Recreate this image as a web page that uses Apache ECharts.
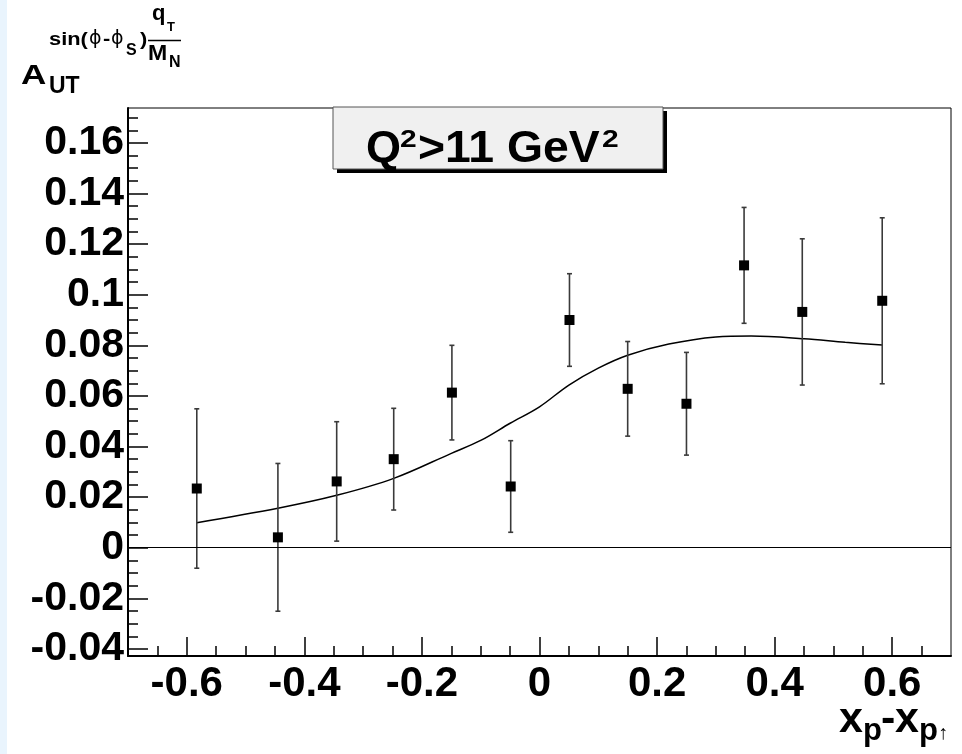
<!DOCTYPE html>
<html>
<head>
<meta charset="utf-8">
<script src="https://cdn.jsdelivr.net/npm/echarts@6/dist/echarts.min.js"></script>
<style>
  html, body { margin: 0; padding: 0; background: #ffffff; }
  #chart { width: 962px; height: 754px; }
</style>
</head>
<body>
<div id="chart"></div>
<script>
// Measured asymmetry points: bin centre in x_p - x_p↑, asymmetry value, statistical error
const xCenters = [-0.583, -0.445, -0.345, -0.248, -0.149, -0.049, 0.051, 0.150, 0.250, 0.348, 0.447, 0.583];
const asymValues = [0.0234, 0.0041, 0.0262, 0.0350, 0.0613, 0.0242, 0.0900, 0.0628, 0.0569, 0.1116, 0.0932, 0.0976];
const asymErrors = [0.0315, 0.0292, 0.0236, 0.0201, 0.0187, 0.0181, 0.0183, 0.0187, 0.0203, 0.0229, 0.0289, 0.0328];

// Model curve
const fitX = [-0.583, -0.445, -0.345, -0.248, -0.15, -0.10, -0.05, 0.0, 0.05, 0.10, 0.15, 0.22, 0.30, 0.36, 0.45, 0.52, 0.583];
const fitY = [0.0099, 0.0156, 0.0207, 0.0274, 0.0373, 0.0424, 0.0492, 0.0557, 0.0643, 0.0710, 0.0761, 0.0805, 0.0833, 0.0837, 0.0826, 0.0812, 0.0801];

// Axis ranges and tick positions
const xRange = [-0.7, 0.7];
const yRange = [-0.0428, 0.1738];
const xMajorTicks = [-0.6, -0.4, -0.2, 0, 0.2, 0.4, 0.6];
const xMinorTicks = [-0.65, -0.55, -0.5, -0.45, -0.35, -0.3, -0.25, -0.15, -0.1, -0.05,
                     0.05, 0.1, 0.15, 0.25, 0.3, 0.35, 0.45, 0.5, 0.55, 0.65];
const yMajorTicks = [-0.04, -0.02, 0, 0.02, 0.04, 0.06, 0.08, 0.1, 0.12, 0.14, 0.16];
const yMinorTicks = [-0.035, -0.03, -0.025, -0.015, -0.01, -0.005, 0.005, 0.01, 0.015,
                     0.025, 0.03, 0.035, 0.045, 0.05, 0.055, 0.065, 0.07, 0.075,
                     0.085, 0.09, 0.095, 0.105, 0.11, 0.115, 0.125, 0.13, 0.135,
                     0.145, 0.15, 0.155, 0.165, 0.17];

const FONT = '"Liberation Sans", Arial, Helvetica, sans-serif';

const points = xCenters.map((x, i) => [x, asymValues[i], asymErrors[i]]);
const fitLine = fitX.map((x, i) => [x, fitY[i]]);

// Text fragment placed by its left edge and baseline
function frag(text, left, baseline, size, opt) {
  opt = opt || {};
  const weight = opt.weight || 'bold';
  return {
    type: 'text',
    x: left,
    y: baseline - 0.3465 * size,
    scaleX: opt.sx || 1,
    z: 100,
    silent: true,
    style: {
      text: text,
      x: 0, y: 0,
      font: weight + ' ' + size + 'px ' + (opt.family || FONT),
      fill: '#000',
      align: 'left', verticalAlign: 'middle',
      textAlign: 'left', textVerticalAlign: 'middle'
    }
  };
}

const tickLine = { color: '#000', width: 1.5 };

const option = {
  animation: false,
  backgroundColor: '#ffffff',
  grid: {
    left: 128, right: 11, top: 108, bottom: 98,
    show: true, borderColor: '#000', borderWidth: 1, backgroundColor: 'transparent'
  },
  xAxis: [
    {
      type: 'value', min: xRange[0], max: xRange[1], position: 'bottom',
      axisLine: { show: true, onZero: false, lineStyle: { color: '#000', width: 2 } },
      axisTick: { show: true, inside: true, length: 19, lineStyle: tickLine, customValues: xMajorTicks },
      axisLabel: {
        show: true, customValues: xMajorTicks, margin: 7,
        fontSize: 42, fontWeight: 'bold', fontFamily: FONT, color: '#000',
        formatter: v => String(+(+v).toFixed(3))
      },
      splitLine: { show: false }
    },
    {
      type: 'value', min: xRange[0], max: xRange[1], position: 'bottom', offset: 0,
      axisLine: { show: false, onZero: false },
      axisTick: { show: true, inside: true, length: 10, lineStyle: tickLine, customValues: xMinorTicks },
      axisLabel: { show: false },
      splitLine: { show: false }
    }
  ],
  yAxis: [
    {
      type: 'value', min: yRange[0], max: yRange[1], position: 'left',
      axisLine: { show: true, onZero: false, lineStyle: { color: '#000', width: 2 } },
      axisTick: { show: true, inside: true, length: 20, lineStyle: tickLine, customValues: yMajorTicks },
      axisLabel: {
        show: true, customValues: yMajorTicks, margin: 4,
        fontSize: 41, fontWeight: 'bold', fontFamily: FONT, color: '#000',
        formatter: v => String(+(+v).toFixed(3))
      },
      splitLine: { show: false }
    },
    {
      type: 'value', min: yRange[0], max: yRange[1], position: 'left', offset: 0,
      axisLine: { show: false, onZero: false },
      axisTick: { show: true, inside: true, length: 10, lineStyle: tickLine, customValues: yMinorTicks },
      axisLabel: { show: false },
      splitLine: { show: false }
    }
  ],
  series: [
    {
      // model curve plus the zero reference line
      type: 'line',
      data: fitLine,
      smooth: 0.35,
      showSymbol: false,
      symbol: 'none',
      lineStyle: { color: '#000', width: 1.5 },
      silent: true,
      z: 3,
      markLine: {
        silent: true,
        symbol: ['none', 'none'],
        label: { show: false },
        lineStyle: { color: '#000', width: 1.2, type: 'solid' },
        data: [{ yAxis: 0 }]
      }
    },
    {
      // error bars
      type: 'custom',
      data: points,
      z: 4,
      silent: true,
      renderItem: function (params, api) {
        const x = api.value(0), v = api.value(1), e = api.value(2);
        const lo = api.coord([x, v - e]);
        const hi = api.coord([x, v + e]);
        const cap = 2.5;
        const style = { stroke: '#3a3a3a', lineWidth: 1.6 };
        return {
          type: 'group',
          children: [
            { type: 'line', shape: { x1: lo[0], y1: lo[1], x2: hi[0], y2: hi[1] }, style: style },
            { type: 'line', shape: { x1: lo[0] - cap, y1: lo[1], x2: lo[0] + cap, y2: lo[1] }, style: style },
            { type: 'line', shape: { x1: hi[0] - cap, y1: hi[1], x2: hi[0] + cap, y2: hi[1] }, style: style }
          ]
        };
      },
      encode: { x: 0, y: 1 }
    },
    {
      // data markers
      type: 'scatter',
      data: points.map(p => [p[0], p[1]]),
      symbol: 'rect',
      symbolSize: 10,
      itemStyle: { color: '#000', opacity: 1 },
      silent: true,
      z: 5
    }
  ],
  graphic: [
    // light strip at the left edge of the canvas
    { type: 'rect', shape: { x: 0, y: 0, width: 7, height: 754 }, style: { fill: '#e9f4fd' }, silent: true, z: 0 },

    // kinematic cut box with drop shadow
    { type: 'rect', shape: { x: 337, y: 111, width: 330, height: 62 }, style: { fill: '#000' }, silent: true, z: 90 },
    { type: 'rect', shape: { x: 333, y: 107, width: 330, height: 62 }, style: { fill: '#f0f0f0', stroke: '#555', lineWidth: 1 }, silent: true, z: 91 },
    frag('Q', 366, 165, 45),
    frag('2', 400, 149, 24, { sx: 1.25 }),
    frag('>11 GeV', 418, 165, 45, { sx: 1.03 }),
    frag('2', 602, 149, 24, { sx: 1.25 }),

    // y-axis title
    frag('A', 21, 86, 27, { sx: 1.3 }),
    frag('UT', 49, 95, 23),
    frag('sin(', 49, 46, 19, { sx: 1.15 }),
    frag('\u03d5', 89, 46, 19, { weight: 'normal', family: '"DejaVu Sans", sans-serif' }),
    frag('-', 103, 46, 19, { sx: 1.15 }),
    frag('\u03d5', 111, 46, 19, { weight: 'normal', family: '"DejaVu Sans", sans-serif' }),
    frag('S', 126, 56, 16),
    frag(')', 140, 46, 19, { sx: 1.15 }),
    frag('q', 152, 22, 22),
    frag('T', 167, 32, 13),
    { type: 'line', shape: { x1: 148, y1: 40.5, x2: 181, y2: 40.5 }, style: { stroke: '#000', lineWidth: 1.6 }, silent: true, z: 100 },
    frag('M', 148, 62, 22, { sx: 1.05 }),
    frag('N', 169, 68, 16),

    // x-axis title
    frag('x', 839, 735, 43),
    frag('p', 863, 742, 31),
    frag('-', 881, 735, 43),
    frag('x', 895, 735, 43),
    frag('p', 919, 742, 31),
    frag('\u2191', 938, 740, 20, { weight: 'normal' })
  ]
};

const chart = echarts.init(document.getElementById('chart'), null, { renderer: 'canvas' });
chart.setOption(option);
</script>
</body>
</html>
